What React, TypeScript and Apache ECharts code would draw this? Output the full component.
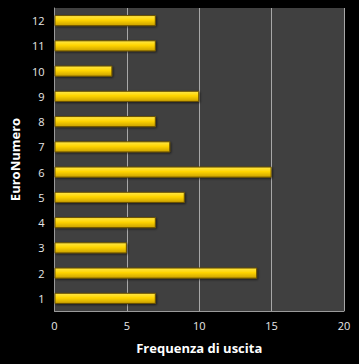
import React, { useEffect, useRef } from "react";
import * as echarts from "echarts";

const categories = ["1", "2", "3", "4", "5", "6", "7", "8", "9", "10", "11", "12"];
const frequencies = [7, 14, 5, 7, 9, 15, 8, 7, 10, 4, 7, 7];
const xTicks = [0, 5, 10, 15, 20];

export default function App() {
  const ref = useRef<HTMLDivElement>(null);
  useEffect(() => {
    if (!ref.current) return;
    const chart = echarts.init(ref.current, null, { renderer: "svg" });
    const font = "'Open Sans', 'Noto Sans', sans-serif";
    chart.setOption({
      animation: false,
      backgroundColor: "#000000",
      grid: {
        left: 53,
        right: 15,
        top: 8,
        bottom: 53,
        show: true,
        backgroundColor: "#404040",
        borderWidth: 0,
      },
      xAxis: {
        type: "value",
        min: xTicks[0],
        max: xTicks[xTicks.length - 1],
        interval: 5,
        name: "Frequenza di uscita",
        nameLocation: "middle",
        nameGap: 30,
        nameTextStyle: { color: "#ffffff", fontSize: 13, fontWeight: "bold", fontFamily: font },
        axisLine: { show: true, lineStyle: { color: "#9a9a9a", width: 1 } },
        axisTick: { show: false },
        axisLabel: { color: "#e8e8e8", fontSize: 11, fontFamily: font, margin: 9 },
        splitLine: { show: true, lineStyle: { color: "#a8a8a8", width: 1 } },
      },
      yAxis: {
        type: "category",
        data: categories,
        name: "EuroNumero",
        nameLocation: "middle",
        nameGap: 33,
        nameTextStyle: { color: "#ffffff", fontSize: 13, fontWeight: "bold", fontFamily: font },
        axisLine: { show: true, lineStyle: { color: "#9a9a9a", width: 1 } },
        axisTick: { show: false },
        axisLabel: { color: "#e8e8e8", fontSize: 11, fontFamily: font, margin: 10 },
        splitLine: { show: false },
      },
      series: [
        {
          type: "bar",
          data: frequencies,
          barWidth: "44%",
          itemStyle: {
            color: new echarts.graphic.LinearGradient(0, 0, 0, 1, [
              { offset: 0, color: "#ffe84a" },
              { offset: 0.45, color: "#ffd400" },
              { offset: 1, color: "#c9a000" },
            ]),
            borderColor: "#6b5200",
            borderWidth: 1,
            shadowColor: "rgba(0,0,0,0.6)",
            shadowBlur: 2,
            shadowOffsetX: 1,
            shadowOffsetY: 1,
          },
        },
      ],
    });
    return () => chart.dispose();
  }, []);
  return <div ref={ref} style={{ width: 359, height: 364, position: "absolute", left: 0, top: 0 }} />;
}
